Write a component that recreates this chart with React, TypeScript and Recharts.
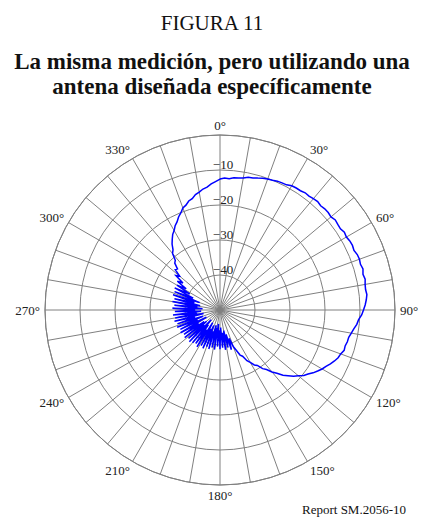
import {
  PolarAngleAxis,
  PolarGrid,
  PolarRadiusAxis,
  Radar,
  RadarChart,
} from "recharts";

// measured level (dB) every 2°, clockwise from 0° (north)
const levels = [
  -12.6, -12.3, -12.4, -12.0, -11.9, -11.7, -11.2, -11.1, -10.8, -10.4,
  -10.2, -10.0, -9.7, -9.6, -9.5, -9.0, -8.9, -8.9, -8.6, -8.7,
  -8.5, -8.3, -8.6, -8.4, -8.4, -8.6, -8.2, -8.4, -8.5, -8.1,
  -8.3, -8.0, -7.9, -8.1, -7.7, -7.6, -7.8, -7.5, -7.9, -7.6,
  -7.9, -8.0, -7.8, -8.1, -8.5, -9.0, -9.5, -10.3, -10.7, -11.4,
  -11.9, -12.4, -12.5, -12.8, -12.7, -13.3, -13.6, -14.2, -14.9, -15.7,
  -16.3, -17.1, -17.9, -18.9, -19.6, -20.8, -21.7, -23.0, -24.1, -25.7,
  -26.9, -28.4, -29.3, -30.9, -31.5, -32.7, -33.6, -35.3, -35.9, -37.6,
  -38.8, -41.5, -38.2, -42.8, -39.0, -44.0, -38.5, -43.5, -39.2, -45.0,
  -38.8, -44.2, -39.5, -46.0, -38.6, -44.8, -39.0, -45.5, -38.4, -43.6,
  -38.8, -45.2, -38.0, -44.0, -38.5, -45.8, -37.6, -43.2, -38.2, -44.6,
  -37.8, -46.2, -37.4, -43.8, -37.9, -45.0, -37.2, -44.4, -37.6, -42.8,
  -37.0, -45.6, -37.4, -43.0, -36.8, -44.8, -37.2, -42.6, -36.6, -45.2,
  -37.0, -43.4, -36.5, -44.6, -37.1, -42.9, -36.4, -45.0, -36.9, -43.5,
  -36.2, -44.2, -36.6, -42.4, -35.9, -43.8, -36.0, -41.6, -35.6, -40.2,
  -35.8, -38.6, -35.3, -36.9, -34.0, -34.9, -32.8, -33.1, -31.4, -30.9,
  -28.9, -28.2, -26.7, -25.6, -24.5, -23.8, -22.7, -22.0, -20.9, -20.1,
  -19.0, -18.5, -17.6, -17.2, -16.3, -15.8, -15.1, -14.7, -13.9, -13.3,
];

const spokes = [
  0, 10, 20, 30, 40, 50, 60, 70, 80, 90, 100, 110, 120, 130, 140, 150, 160, 170,
  180, 190, 200, 210, 220, 230, 240, 250, 260, 270, 280, 290, 300, 310, 320, 330,
  340, 350,
];
const angleLabels = [0, 30, 60, 90, 120, 150, 180, 210, 240, 270, 300, 330];
const rings = [-50, -40, -30, -20, -10, 0];
const ringLabels = [-40, -30, -20, -10];

const CX = 220;
const CY = 310;
const FONT = "'Liberation Serif', 'Times New Roman', serif";

const data = levels.map((v, i) => ({ deg: i * 2, level: v }));

function AngleTick(props: any) {
  const { x, y, payload, textAnchor } = props;
  if (!angleLabels.includes(payload.value)) return null;
  const dx = x - CX;
  const dy = y - CY;
  const r = Math.hypot(dx, dy) || 1;
  return (
    <text
      x={x}
      y={y + (dy / r) * 5}
      textAnchor={textAnchor}
      dominantBaseline="central"
      fontFamily={FONT}
      fontSize={13}
      fill="#222"
    >
      {payload.value}°
    </text>
  );
}

function RadiusTick(props: any) {
  const { x, y, payload } = props;
  if (!ringLabels.includes(payload.value)) return null;
  return (
    <text
      x={x + 3}
      y={y - 1}
      textAnchor="middle"
      fontFamily={FONT}
      fontSize={13}
      fill="#222"
    >
      {"\u2212" + Math.abs(payload.value)}
    </text>
  );
}

export default function App() {
  return (
    <div
      style={{
        position: "absolute",
        left: 0,
        top: 0,
        width: 424,
        height: 517,
        background: "#fff",
        fontFamily: FONT,
        color: "#111",
      }}
    >
      <div
        style={{
          position: "absolute",
          top: 11,
          width: 424,
          textAlign: "center",
          fontSize: 21,
        }}
      >
        FIGURA 11
      </div>
      <div
        style={{
          position: "absolute",
          top: 49,
          width: 424,
          textAlign: "center",
          fontSize: 23,
          fontWeight: "bold",
          lineHeight: "25px",
        }}
      >
        La misma medición, pero utilizando una
        <br />
        antena diseñada específicamente
      </div>
      <div style={{ position: "absolute", left: 0, top: 0 }}>
        <RadarChart
          width={424}
          height={517}
          cx={CX}
          cy={CY}
          outerRadius={175}
          startAngle={90}
          endAngle={-270}
          data={data}
          margin={{ top: 0, right: 0, bottom: 0, left: 0 }}
        >
          <PolarGrid
            gridType="circle"
            stroke="#808080"
            polarAngles={spokes.map((b) => 90 - b)}
          />
          <PolarAngleAxis
            dataKey="deg"
            axisLineType="circle"
            axisLine={{ stroke: "#808080" }}
            tickLine={false}
            tickSize={5}
            tick={AngleTick}
          />
          <PolarRadiusAxis
            angle={90}
            type="number"
            domain={[-50, 0]}
            ticks={rings}
            axisLine={false}
            tickLine={false}
            tick={RadiusTick}
          />
          <Radar
            dataKey="level"
            stroke="#0000ff"
            strokeWidth={1.5}
            fill="none"
            fillOpacity={0}
            dot={false}
            isAnimationActive={false}
          />
        </RadarChart>
      </div>
      <div
        style={{
          position: "absolute",
          right: 18,
          top: 502,
          fontSize: 13,
        }}
      >
        Report SM.2056-10
      </div>
    </div>
  );
}
